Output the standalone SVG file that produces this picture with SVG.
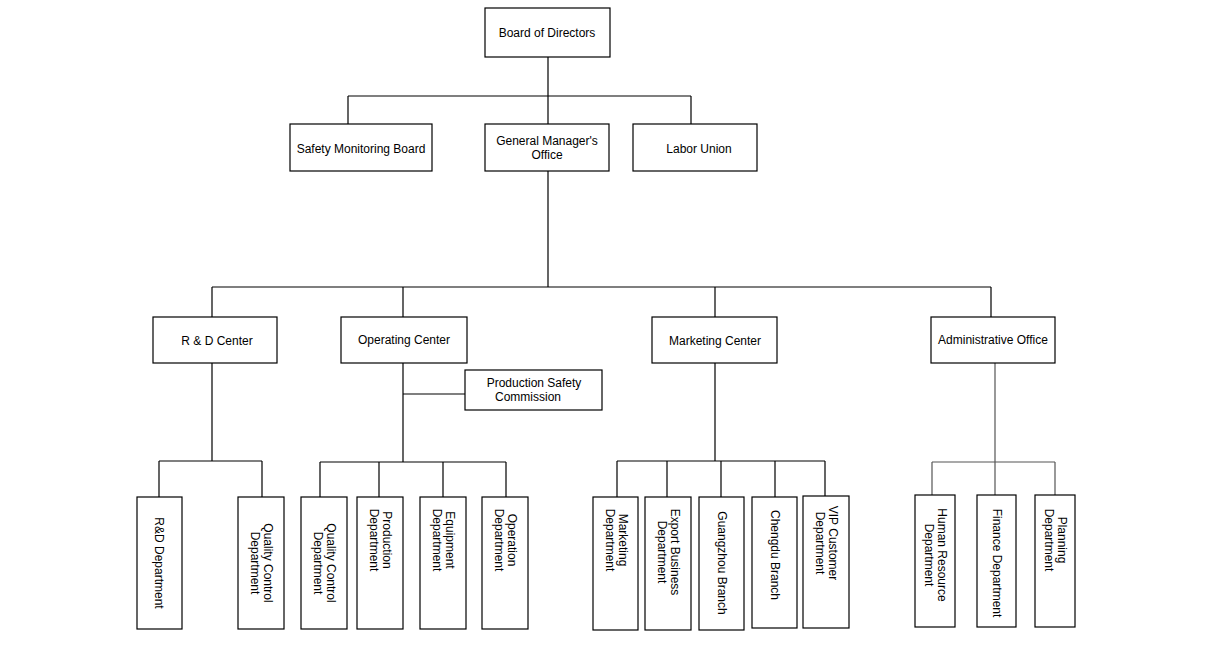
<svg xmlns="http://www.w3.org/2000/svg" width="1219" height="658" viewBox="0 0 1219 658">
<style>
rect{fill:#fff;stroke:#000;stroke-width:1.2}
text{font-family:"Liberation Sans",Arial,sans-serif;font-size:12px;fill:#000;text-anchor:middle}
#connectors path{fill:none;stroke:#000;stroke-width:1.2}
</style>
<rect x="0" y="0" width="1219" height="658" style="stroke:none"/>
<g id="connectors">
<path d="M548 57V96M348 96H691M348 96V124M548 96V124M691 96V124"/>
<path d="M548 171V287M212 287H991M212 287V317M403 287V317M715 287V317M991 287V317"/>
<path d="M403 363V462M403 394H465M320 462H506M320 462V497M379 462V497M443 462V497M506 462V497"/>
<path d="M212 363V461M159 461H262M159 461V497M262 461V497"/>
<path d="M715 363V461M617 461H825M617 461V497M667 461V497M721 461V497M775 461V497M825 461V497"/>
<path d="M995 363V462M932 462H1055M932 462V495M995 462V495M1055 462V495" style="stroke:#555"/>
</g>
<g id="board"><rect x="485" y="8" width="125" height="49"/><text x="547" y="37">Board of Directors</text></g>
<g id="safety"><rect x="290" y="124" width="142" height="47"/><text x="361" y="153">Safety Monitoring Board</text></g>
<g id="gm"><rect x="485" y="124" width="124" height="47"/><text x="547" y="145">General Manager's</text><text x="547" y="159">Office</text></g>
<g id="labor"><rect x="633" y="124" width="124" height="47"/><text x="699" y="153">Labor Union</text></g>
<g id="rdc"><rect x="153" y="317" width="124" height="46"/><text x="217" y="345">R &amp; D Center</text></g>
<g id="opc"><rect x="341" y="317" width="126" height="46"/><text x="404" y="344">Operating Center</text></g>
<g id="mkc"><rect x="652" y="317" width="125" height="46"/><text x="715" y="345">Marketing Center</text></g>
<g id="adm"><rect x="931" y="317" width="124" height="46"/><text x="993" y="344">Administrative Office</text></g>
<g id="psc"><rect x="465" y="370" width="137" height="40"/><text x="534" y="387">Production Safety</text><text x="528" y="401">Commission</text></g>
<g id="rdd"><rect x="137" y="497" width="45" height="132"/><text transform="translate(159,563) rotate(90)" y="4">R&amp;D Department</text></g>
<g id="qc1"><rect x="238" y="497" width="46" height="132"/><text transform="translate(261,563) rotate(90)" y="-3">Quality Control</text><text transform="translate(261,563) rotate(90)" y="10">Department</text></g>
<g id="qc2"><rect x="301" y="497" width="46" height="132"/><text transform="translate(324,563) rotate(90)" y="-3">Quality Control</text><text transform="translate(324,563) rotate(90)" y="10">Department</text></g>
<g id="prod"><rect x="357" y="497" width="46" height="132"/><text transform="translate(380,540) rotate(90)" y="-3">Production</text><text transform="translate(380,540) rotate(90)" y="10">Department</text></g>
<g id="equip"><rect x="420" y="497" width="46" height="132"/><text transform="translate(443,540) rotate(90)" y="-3">Equipment</text><text transform="translate(443,540) rotate(90)" y="10">Department</text></g>
<g id="oper"><rect x="482" y="497" width="46" height="132"/><text transform="translate(505,540) rotate(90)" y="-3">Operation</text><text transform="translate(505,540) rotate(90)" y="10">Department</text></g>
<g id="mkd"><rect x="593" y="497" width="45" height="133"/><text transform="translate(616,540) rotate(90)" y="-3">Marketing</text><text transform="translate(616,540) rotate(90)" y="10">Department</text></g>
<g id="exp"><rect x="645" y="497" width="46" height="133"/><text transform="translate(668,552) rotate(90)" y="-3">Export Business</text><text transform="translate(668,552) rotate(90)" y="10">Department</text></g>
<g id="gz"><rect x="699" y="497" width="45" height="133"/><text transform="translate(722,563) rotate(90)" y="4">Guangzhou Branch</text></g>
<g id="cd"><rect x="752" y="497" width="45" height="131"/><text transform="translate(775,555) rotate(90)" y="4">Chengdu Branch</text></g>
<g id="vip"><rect x="803" y="496" width="46" height="132"/><text transform="translate(826,543) rotate(90)" y="-3">VIP Customer</text><text transform="translate(826,543) rotate(90)" y="10">Department</text></g>
<g id="hr"><rect x="915" y="495" width="40" height="132"/><text transform="translate(935,555) rotate(90)" y="-3">Human Resource</text><text transform="translate(935,555) rotate(90)" y="10">Department</text></g>
<g id="fin"><rect x="977" y="495" width="39" height="132"/><text transform="translate(997,563) rotate(90)" y="4">Finance Department</text></g>
<g id="plan"><rect x="1035" y="495" width="40" height="132"/><text transform="translate(1055,540) rotate(90)" y="-3">Planning</text><text transform="translate(1055,540) rotate(90)" y="10">Department</text></g>
</svg>
